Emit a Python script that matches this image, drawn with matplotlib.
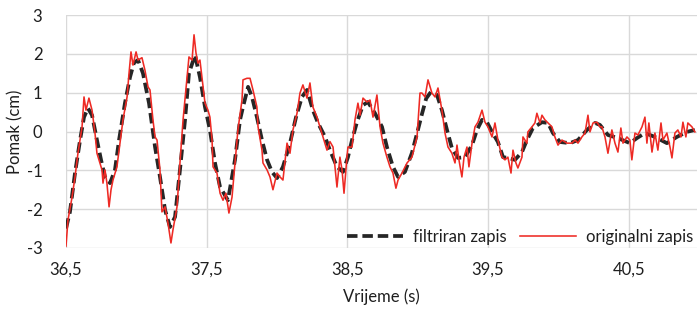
import matplotlib
matplotlib.use("Agg")
import matplotlib.pyplot as plt
from matplotlib.ticker import FuncFormatter, FixedLocator

# ---- data ----
t_filtered = [36.500, 36.528, 36.564, 36.600, 36.628, 36.656, 36.685, 36.720, 36.749, 36.777,
              36.813, 36.848, 36.877, 36.919, 36.955, 36.983, 37.012, 37.047, 37.090, 37.133,
              37.168, 37.204, 37.239, 37.275, 37.310, 37.346, 37.374, 37.417, 37.452, 37.488,
              37.523, 37.559, 37.595, 37.651, 37.701, 37.737, 37.758, 37.794, 37.822, 37.857,
              37.893, 37.929, 37.964, 38.000, 38.042, 38.092, 38.135, 38.177, 38.213, 38.255,
              38.291, 38.341, 38.376, 38.426, 38.469, 38.504, 38.533, 38.568, 38.611, 38.646,
              38.696, 38.746, 38.781, 38.824, 38.860, 38.909, 38.959, 39.002, 39.030, 39.060,
              39.094, 39.137, 39.172, 39.208, 39.243, 39.286, 39.336, 39.386, 39.421, 39.457,
              39.492, 39.528, 39.570, 39.606, 39.641, 39.691, 39.741, 39.776, 39.819, 39.883,
              39.926, 39.961, 40.011, 40.082, 40.139, 40.203, 40.260, 40.295, 40.352, 40.423,
              40.508, 40.558, 40.615, 40.686, 40.771, 40.842, 40.913, 40.970]
filtered = [-2.50, -2.07, -1.07, -0.22, 0.37, 0.60, 0.42, -0.22, -0.73, -1.17,
            -1.33, -0.99, -0.22, 0.73, 1.40, 1.77, 1.84, 1.50, 0.73, -0.40,
            -1.17, -2.02, -2.46, -2.20, -0.99, 0.30, 1.50, 1.97, 1.40, 0.63,
            0.04, -0.81, -1.43, -1.77, -0.73, 0.30, 0.63, 1.15, 0.89, 0.37,
            -0.22, -0.73, -1.04, -1.20, -0.91, -0.30, 0.37, 0.89, 1.07, 0.55,
            0.22, -0.14, -0.48, -0.91, -1.04, -0.66, -0.22, 0.24, 0.68, 0.76,
            0.47, 0.12, -0.40, -0.91, -1.17, -1.04, -0.55, 0.05, 0.45, 0.85,
            1.02, 0.94, 0.55, 0.04, -0.43, -0.68, -0.66, -0.35, 0.04, 0.30,
            0.24, -0.01, -0.27, -0.66, -0.68, -0.73, -0.53, -0.22, 0.09, 0.24,
            0.22, -0.04, -0.27, -0.30, -0.22, 0.04, 0.22, 0.17, -0.09, -0.17,
            -0.30, -0.17, -0.04, -0.14, -0.30, -0.14, -0.01, 0.04]

t_original = [36.500, 36.514, 36.543, 36.564, 36.585, 36.614, 36.628, 36.642, 36.663, 36.685,
              36.706, 36.720, 36.756, 36.763, 36.777, 36.791, 36.806, 36.820, 36.834, 36.862,
              36.884, 36.905, 36.934, 36.948, 36.962, 36.976, 36.998, 37.012, 37.040, 37.061,
              37.083, 37.097, 37.118, 37.133, 37.147, 37.168, 37.182, 37.204, 37.225, 37.246,
              37.260, 37.289, 37.310, 37.332, 37.360, 37.374, 37.396, 37.410, 37.424, 37.438,
              37.452, 37.474, 37.488, 37.509, 37.523, 37.538, 37.545, 37.573, 37.595, 37.616,
              37.637, 37.658, 37.680, 37.701, 37.722, 37.751, 37.758, 37.786, 37.808, 37.829,
              37.857, 37.865, 37.893, 37.900, 37.929, 37.950, 37.971, 38.000, 38.021, 38.042,
              38.071, 38.092, 38.113, 38.142, 38.163, 38.184, 38.213, 38.234, 38.255, 38.284,
              38.305, 38.327, 38.355, 38.376, 38.398, 38.426, 38.447, 38.462, 38.476, 38.497,
              38.504, 38.533, 38.554, 38.575, 38.590, 38.611, 38.639, 38.661, 38.682, 38.710,
              38.732, 38.753, 38.781, 38.803, 38.824, 38.845, 38.860, 38.888, 38.924, 38.959,
              38.995, 39.016, 39.030, 39.052, 39.073, 39.101, 39.123, 39.144, 39.172, 39.194,
              39.215, 39.243, 39.265, 39.279, 39.293, 39.314, 39.329, 39.350, 39.364, 39.386,
              39.407, 39.428, 39.457, 39.478, 39.499, 39.528, 39.549, 39.570, 39.599, 39.620,
              39.641, 39.663, 39.677, 39.698, 39.712, 39.741, 39.748, 39.776, 39.783, 39.812,
              39.833, 39.847, 39.869, 39.883, 39.904, 39.926, 39.954, 39.975, 39.997, 40.025,
              40.061, 40.096, 40.118, 40.139, 40.167, 40.189, 40.210, 40.224, 40.246, 40.274,
              40.295, 40.309, 40.331, 40.352, 40.380, 40.402, 40.423, 40.444, 40.459, 40.487,
              40.508, 40.522, 40.544, 40.565, 40.594, 40.615, 40.629, 40.643, 40.665, 40.686,
              40.707, 40.729, 40.743, 40.771, 40.793, 40.807, 40.828, 40.849, 40.871, 40.885,
              40.906, 40.920, 40.949, 40.970]
original = [-2.95, -2.28, -1.69, -1.17, -0.56, 0.12, 0.89, 0.55, 0.86, 0.55,
            -0.04, -0.56, -0.99, -1.33, -0.99, -1.33, -1.94, -1.50, -1.25, -0.91,
            -0.30, 0.30, 0.89, 1.50, 2.05, 1.71, 2.05, 1.84, 1.90, 1.58,
            1.15, 1.07, 0.30, -0.14, -0.22, -0.99, -2.07, -1.94, -2.36, -2.87,
            -2.54, -1.94, -0.81, 0.30, 1.40, 1.92, 1.84, 2.49, 2.02, 1.76,
            1.84, 1.15, 0.73, 0.55, 0.37, -0.22, -0.91, -1.07, -1.59, -1.77,
            -1.59, -2.10, -1.69, -0.81, 0.04, 0.81, 1.33, 1.37, 1.37, 1.07,
            0.63, 0.12, -0.48, -0.81, -0.99, -1.17, -1.50, -1.07, -1.17, -1.25,
            -0.30, -0.56, 0.04, 0.47, 0.99, 1.20, 0.86, 1.25, 0.63, 0.37,
            0.12, -0.14, -0.48, -0.26, -0.40, -1.43, -0.66, -0.99, -1.59, -0.66,
            -0.40, -0.40, 0.30, 0.73, 0.42, 0.86, 0.76, 0.81, 0.37, 0.94,
            0.12, -0.30, -0.66, -0.91, -1.07, -1.46, -1.25, -1.07, -0.81, -0.66,
            -0.14, 0.99, 0.99, 0.89, 1.33, 0.99, 0.89, 1.12, 0.55, -0.04,
            -0.40, -0.56, -0.81, -0.35, -0.73, -1.17, -0.66, -0.40, -0.91, -0.30,
            0.12, 0.24, 0.55, 0.24, 0.12, -0.14, 0.22, -0.22, -0.66, -0.73,
            -0.66, -1.07, -0.48, -0.81, -0.94, -0.66, -0.14, -0.30, -0.01, 0.12,
            0.22, 0.47, 0.22, 0.42, 0.30, 0.22, 0.12, -0.14, -0.35, -0.22,
            -0.30, -0.30, -0.22, -0.30, -0.14, -0.04, 0.42, -0.01, 0.22, 0.24,
            0.12, 0.12, -0.14, -0.56, 0.04, -0.30, -0.53, 0.09, -0.30, -0.14,
            -0.22, -0.73, -0.04, -0.09, 0.12, 0.37, -0.30, 0.22, -0.53, -0.04,
            -0.48, 0.22, -0.22, -0.04, -0.40, -0.68, -0.04, 0.04, -0.14, 0.24,
            -0.14, 0.22, 0.12, -0.01]

x_ticks = [36.5, 37.5, 38.5, 39.5, 40.5]
y_ticks = [-3, -2, -1, 0, 1, 2, 3]
label_filtered = "filtriran zapis"
label_original = "originalni zapis"
x_label = "Vrijeme (s)"
y_label = "Pomak (cm)"

# ---- style ----
plt.rcParams['font.family'] = ['Lato', 'DejaVu Sans']
plt.rcParams['axes.unicode_minus'] = False
text_color = '#1f1f1f'
fs = 12

fig = plt.figure(figsize=(7.0, 3.09), dpi=100)
ax = fig.add_axes([66/700, 1 - 248/309, (697-66)/700, (248-15)/309])

ax.plot(t_filtered, filtered, color='#262626', lw=2.7, linestyle=(0, (2.8, 1.3)),
        label=label_filtered, zorder=3)
ax.plot(t_original, original, color='#ee2a24', lw=1.15, label=label_original, zorder=4)

ax.set_xlim(36.5, 40.985)
ax.set_ylim(-3, 3)
ax.xaxis.set_major_locator(FixedLocator(x_ticks))
ax.yaxis.set_major_locator(FixedLocator(y_ticks))
ax.xaxis.set_major_formatter(FuncFormatter(lambda v, p: f"{v:.1f}".replace('.', ',')))
ax.yaxis.set_major_formatter(FuncFormatter(lambda v, p: f"{int(round(v))}"))

ax.grid(True, color='#d9d9d9', lw=1.0, zorder=0)
ax.set_axisbelow(True)
for s in ax.spines.values():
    s.set_visible(False)
ax.tick_params(axis='both', length=0, labelsize=fs, colors=text_color)
ax.tick_params(axis='y', pad=17)
ax.tick_params(axis='x', pad=10)

ax.set_xlabel(x_label, fontsize=fs, color=text_color)
ax.set_ylabel(y_label, fontsize=fs, color=text_color)
ax.xaxis.set_label_coords(0.5, -49/233, transform=ax.transAxes)
ax.yaxis.set_label_coords(-51/631, 0.5, transform=ax.transAxes)
ax.xaxis.label.set_verticalalignment('center')
ax.yaxis.label.set_verticalalignment('center')

leg = ax.legend(loc='lower right', bbox_to_anchor=(1.005, -0.015), ncol=2, frameon=False,
                fontsize=fs, handlelength=3.4, handletextpad=0.6, columnspacing=0.75,
                borderaxespad=0.0)
for t in leg.get_texts():
    t.set_color(text_color)

fig.savefig("out.png", dpi=100)
